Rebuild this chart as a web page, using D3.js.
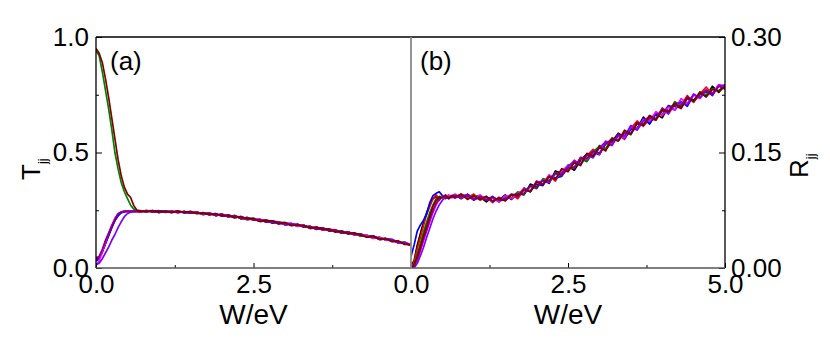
<!DOCTYPE html>
<html>
<head>
<meta charset="utf-8">
<script src="https://cdn.jsdelivr.net/npm/d3@7"></script>
<style>
  body { margin: 0; background: #fff; }
  svg { display: block; }
  text { font-family: "Liberation Sans", Arial, sans-serif; fill: #000; }
</style>
</head>
<body>
<div id="chart"></div>
<script>
// W grid (eV), shared by every curve
const W = [0,0.05,0.1,0.15,0.2,0.25,0.3,0.35,0.4,0.45,0.5,0.55,0.6,0.65,
  0.7,0.8,0.9,1.0,1.1,1.2,1.3,1.4,1.5,1.6,1.7,1.8,1.9,2.0,2.1,2.2,2.3,2.4,2.5,
  2.6,2.7,2.8,2.9,3.0,3.1,3.2,3.3,3.4,3.5,3.6,3.7,3.8,3.9,4.0,4.1,4.2,4.3,4.4,
  4.5,4.6,4.7,4.8,4.9,5.0];

const seriesNames  = ["black", "red", "blue", "green", "magenta", "violet", "purple", "wine"];
const seriesColors = ["#000000", "#ff0000", "#0000ff", "#008000", "#ff00ff", "#8000ff", "#800080", "#800000"];

// panel (a): T_jj
const tBlack = [.040,.045,.075,.110,.145,.180,.210,.230,.240,.244,.246,.245,.247,.246,
  .243,.249,.244,.248,.241,.245,.239,.245,.238,.242,.231,.237,.227,.233,.222,.227,.213,.218,.208,.211,.199,.202,.200,.187,.192,.181,.185,.171,.175,.173,.160,.162,.151,.157,.144,.147,.136,.138,.123,.126,.123,.108,.111,.096];
const tRed = [.035,.040,.070,.105,.140,.175,.205,.228,.242,.245,.247,.244,.246,.245,
  .246,.244,.248,.240,.246,.242,.247,.239,.241,.241,.234,.239,.228,.230,.221,.227,.216,.209,.213,.203,.208,.195,.197,.187,.192,.182,.185,.171,.174,.165,.169,.155,.160,.150,.152,.138,.141,.128,.133,.121,.122,.107,.111,.100];
const tBlue = [.030,.040,.070,.105,.140,.175,.205,.225,.240,.244,.245,.247,.245,.246,
  .244,.248,.243,.245,.247,.241,.245,.239,.243,.237,.240,.231,.234,.224,.230,.221,.221,.210,.215,.204,.207,.194,.198,.197,.185,.189,.178,.180,.167,.173,.163,.165,.152,.155,.144,.147,.136,.138,.124,.128,.117,.116,.104,.102];
const tGreen = [.940,.920,.850,.770,.690,.600,.500,.430,.370,.330,.300,.272,.255,.248,
  .248,.244,.246,.241,.248,.242,.245,.239,.244,.236,.237,.238,.228,.233,.223,.227,.214,.216,.215,.203,.208,.197,.199,.187,.193,.182,.183,.172,.177,.165,.169,.159,.161,.149,.151,.138,.143,.131,.133,.120,.123,.110,.111,.098];
const tMagenta = [.012,.030,.070,.110,.150,.185,.215,.235,.243,.246,.247,.246,.247,.246,
  .243,.247,.248,.242,.243,.246,.240,.244,.239,.242,.234,.237,.227,.232,.227,.218,.223,.211,.214,.211,.200,.203,.190,.195,.193,.180,.184,.174,.177,.164,.167,.165,.153,.157,.142,.146,.140,.129,.133,.121,.123,.108,.110,.102];
const tViolet = [.015,.020,.040,.065,.090,.120,.145,.175,.200,.222,.236,.242,.244,.245,
  .246,.245,.247,.241,.246,.241,.246,.241,.238,.241,.237,.232,.235,.225,.228,.220,.223,.210,.212,.203,.208,.198,.199,.188,.191,.189,.177,.178,.168,.173,.162,.163,.152,.157,.146,.145,.135,.138,.125,.125,.123,.109,.110,.097];
const tPurple = [.045,.050,.080,.120,.150,.180,.210,.235,.242,.245,.246,.245,.246,.245,
  .244,.249,.242,.246,.242,.246,.241,.244,.237,.241,.235,.237,.227,.233,.222,.226,.214,.219,.207,.210,.198,.204,.192,.196,.183,.189,.177,.181,.168,.173,.161,.165,.151,.156,.145,.147,.133,.137,.125,.128,.114,.115,.104,.100];
const tWine = [.950,.930,.890,.820,.740,.650,.560,.470,.400,.350,.320,.305,.270,.250,
  .247,.243,.249,.242,.245,.239,.246,.241,.245,.235,.238,.230,.236,.226,.228,.217,.223,.213,.214,.201,.205,.204,.192,.197,.184,.185,.185,.173,.177,.166,.169,.156,.159,.147,.152,.143,.133,.138,.126,.127,.115,.117,.102,.101];

// panel (b): R_jj
const rBlack = [.002,.010,.030,.045,.060,.072,.083,.090,.093,.088,.093,.094,.091,.094,
  .095,.090,.096,.090,.092,.086,.092,.088,.095,.089,.097,.095,.109,.105,.114,.110,.126,.123,.132,.127,.140,.148,.145,.159,.154,.164,.175,.170,.183,.181,.196,.188,.200,.195,.210,.210,.208,.222,.218,.227,.223,.236,.228,.237];
const rRed = [.000,.008,.025,.040,.055,.070,.080,.090,.095,.090,.092,.095,.092,.093,
  .091,.096,.091,.096,.088,.092,.085,.092,.088,.096,.090,.102,.099,.113,.108,.120,.113,.128,.126,.140,.134,.146,.154,.148,.162,.160,.174,.167,.181,.191,.184,.194,.192,.208,.202,.215,.211,.224,.215,.226,.235,.225,.237,.232];
const rBlue = [.015,.030,.048,.056,.062,.070,.085,.094,.097,.099,.094,.090,.094,.092,
  .094,.091,.095,.088,.093,.089,.093,.086,.091,.095,.093,.104,.100,.109,.107,.120,.117,.119,.131,.130,.143,.139,.150,.147,.162,.161,.173,.168,.180,.180,.194,.187,.201,.199,.211,.205,.216,.210,.225,.221,.230,.224,.238,.236];
const rGreen = [.000,.005,.018,.032,.047,.060,.072,.082,.090,.093,.092,.094,.093,.092,
  .092,.095,.090,.093,.094,.088,.091,.086,.093,.091,.099,.096,.106,.103,.116,.114,.122,.120,.134,.131,.142,.138,.151,.158,.155,.169,.166,.177,.173,.188,.187,.198,.193,.204,.202,.216,.211,.221,.216,.229,.225,.233,.230,.238];
const rMagenta = [.000,.002,.010,.022,.035,.048,.060,.072,.082,.089,.093,.092,.095,.091,
  .096,.091,.093,.089,.095,.089,.091,.086,.094,.090,.096,.103,.100,.112,.109,.121,.115,.126,.133,.130,.144,.141,.152,.148,.165,.161,.171,.169,.184,.180,.193,.191,.203,.198,.209,.205,.220,.214,.225,.220,.231,.227,.238,.234];
const rViolet = [.000,.000,.006,.016,.027,.040,.052,.064,.074,.082,.088,.092,.090,.093,
  .091,.094,.095,.090,.090,.093,.086,.091,.089,.096,.093,.102,.099,.111,.113,.111,.124,.121,.132,.139,.135,.147,.143,.156,.164,.159,.172,.171,.185,.179,.191,.197,.194,.207,.200,.213,.215,.212,.226,.221,.231,.225,.236,.238];
const rPurple = [.000,.003,.012,.025,.038,.050,.063,.075,.084,.090,.092,.094,.091,.093,
  .094,.092,.094,.089,.093,.088,.092,.088,.088,.095,.096,.097,.107,.104,.114,.113,.124,.120,.130,.130,.143,.142,.152,.149,.161,.168,.165,.175,.174,.189,.186,.195,.193,.206,.204,.212,.210,.222,.217,.225,.231,.226,.236,.233];
const rWine = [.000,.004,.015,.028,.042,.055,.068,.080,.088,.092,.091,.094,.090,.094,
  .092,.096,.089,.094,.089,.093,.087,.091,.087,.095,.094,.102,.099,.112,.108,.119,.115,.129,.125,.137,.133,.149,.145,.157,.152,.168,.165,.179,.174,.188,.185,.198,.192,.205,.203,.214,.207,.220,.217,.228,.222,.232,.230,.236];

const tSeries = [tBlack, tRed, tBlue, tGreen, tMagenta, tViolet, tPurple, tWine];
const rSeries = [rBlack, rRed, rBlue, rGreen, rMagenta, rViolet, rPurple, rWine];

const xTicksA = [0, 2.5];
const xTicksB = [0, 2.5, 5];
const xMinor = [1.25, 3.75];
const tTicks = [0, 0.5, 1.0];
const tMinor = [0.25, 0.75];
const rTicks = [0, 0.15, 0.30];
const rMinor = [0.075, 0.225];

const FS = 26;       // tick labels
const FS_TITLE = 28; // axis titles

function draw_chart() {
  const width = 830, height = 351;
  const top = 37, bottom = 268;
  const xa0 = 96, xmid = 411, xb1 = 725;

  const svg = d3.select('#chart').append('svg')
        .attr('width', width)
        .attr('height', height);

  const xA = d3.scaleLinear().domain([0, 5]).range([xa0, xmid]);
  const xB = d3.scaleLinear().domain([0, 5]).range([xmid, xb1]);
  const yT = d3.scaleLinear().domain([0, 1]).range([bottom, top]);
  const yR = d3.scaleLinear().domain([0, 0.30]).range([bottom, top]);

  const defs = svg.append('defs');
  defs.append('clipPath').attr('id', 'clip-a')
    .append('rect').attr('x', xa0).attr('y', top).attr('width', xmid - xa0).attr('height', bottom - top);
  defs.append('clipPath').attr('id', 'clip-b')
    .append('rect').attr('x', xmid).attr('y', top).attr('width', xb1 - xmid).attr('height', bottom - top);

  const lineA = d3.line().x((d, i) => xA(W[i])).y(d => yT(d)).defined((d, i) => W[i] !== undefined);
  const lineB = d3.line().x((d, i) => xB(W[i])).y(d => yR(d)).defined((d, i) => W[i] !== undefined);

  svg.append('g').attr('clip-path', 'url(#clip-a)')
    .selectAll('path').data(tSeries).enter().append('path')
    .attr('fill', 'none')
    .attr('stroke', (d, i) => seriesColors[i])
    .attr('stroke-width', 1.7)
    .attr('stroke-linejoin', 'round')
    .attr('d', lineA);

  svg.append('g').attr('clip-path', 'url(#clip-b)')
    .selectAll('path').data(rSeries).enter().append('path')
    .attr('fill', 'none')
    .attr('stroke', (d, i) => seriesColors[i])
    .attr('stroke-width', 1.7)
    .attr('stroke-linejoin', 'round')
    .attr('d', lineB);

  // axes: ticks point inward
  const axis = (g, ax) => {
    g.call(ax);
    g.select('.domain').remove();
    g.selectAll('.tick line').attr('stroke', '#000').attr('stroke-width', 1);
    g.selectAll('.tick text').attr('font-size', FS).attr('font-family', '"Liberation Sans", Arial, sans-serif');
  };

  svg.append('g').attr('transform', `translate(${xa0},0)`)
    .call(g => axis(g, d3.axisLeft(yT).tickValues(tTicks).tickFormat(d3.format('.1f')).tickSize(-6).tickPadding(7)));
  svg.append('g').attr('transform', `translate(${xa0},0)`)
    .call(g => axis(g, d3.axisLeft(yT).tickValues(tMinor).tickFormat('').tickSize(-3)));

  svg.append('g').attr('transform', `translate(${xb1},0)`)
    .call(g => axis(g, d3.axisRight(yR).tickValues(rTicks).tickFormat(d3.format('.2f')).tickSize(-6).tickPadding(6)));
  svg.append('g').attr('transform', `translate(${xb1},0)`)
    .call(g => axis(g, d3.axisRight(yR).tickValues(rMinor).tickFormat('').tickSize(-3)));

  svg.append('g').attr('transform', `translate(0,${bottom})`)
    .call(g => axis(g, d3.axisBottom(xA).tickValues(xTicksA).tickFormat(d3.format('.1f')).tickSize(-5).tickPadding(7)));
  svg.append('g').attr('transform', `translate(0,${bottom})`)
    .call(g => axis(g, d3.axisBottom(xA).tickValues(xMinor).tickFormat('').tickSize(-3)));
  svg.append('g').attr('transform', `translate(0,${bottom})`)
    .call(g => axis(g, d3.axisBottom(xB).tickValues(xTicksB).tickFormat(d3.format('.1f')).tickSize(-5).tickPadding(7)));
  svg.append('g').attr('transform', `translate(0,${bottom})`)
    .call(g => axis(g, d3.axisBottom(xB).tickValues(xMinor).tickFormat('').tickSize(-3)));

  // frame
  const frame = svg.append('g').attr('fill', 'none');
  frame.append('line').attr('x1', xa0).attr('x2', xb1).attr('y1', top).attr('y2', top)
    .attr('stroke', '#000').attr('stroke-width', 1.3);
  frame.append('line').attr('x1', xa0).attr('x2', xa0).attr('y1', top).attr('y2', bottom)
    .attr('stroke', '#000').attr('stroke-width', 1.3);
  frame.append('line').attr('x1', xb1).attr('x2', xb1).attr('y1', top).attr('y2', bottom)
    .attr('stroke', '#000').attr('stroke-width', 1.3);
  frame.append('line').attr('x1', xa0).attr('x2', xb1).attr('y1', bottom).attr('y2', bottom)
    .attr('stroke', '#555').attr('stroke-width', 1.6);
  frame.append('line').attr('x1', xmid).attr('x2', xmid).attr('y1', top).attr('y2', bottom)
    .attr('stroke', '#888').attr('stroke-width', 1.8);

  // labels
  svg.append('text').attr('x', 110).attr('y', 70).attr('font-size', FS).text('(a)');
  svg.append('text').attr('x', 420).attr('y', 70).attr('font-size', FS).text('(b)');

  svg.append('text').attr('x', xA(2.5)).attr('y', 324).attr('text-anchor', 'middle')
    .attr('font-size', FS_TITLE).text('W/eV');
  svg.append('text').attr('x', xB(2.5)).attr('y', 324).attr('text-anchor', 'middle')
    .attr('font-size', FS_TITLE).text('W/eV');

  const yl = svg.append('text').attr('transform', 'translate(40,180) rotate(-90)').attr('font-size', FS);
  yl.append('tspan').text('T');
  yl.append('tspan').attr('font-size', 13).attr('dy', 7).text('jj');

  const yr = svg.append('text').attr('transform', 'translate(808,178) rotate(-90)').attr('font-size', FS);
  yr.append('tspan').text('R');
  yr.append('tspan').attr('font-size', 13).attr('dy', 7).text('jj');
}

draw_chart();
</script>
</body>
</html>
